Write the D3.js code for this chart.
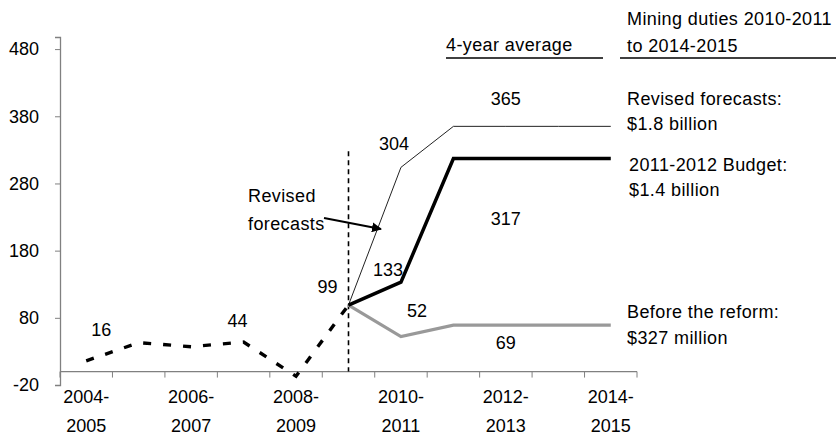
<!DOCTYPE html>
<html><head><meta charset="utf-8">
<script src="https://cdn.jsdelivr.net/npm/d3@7"></script>
<style>body{margin:0;background:#fff}text{font-family:"Liberation Sans",Arial,sans-serif;font-size:18px;fill:#000}</style>
</head><body><svg id="c" width="838" height="439"></svg>
<script>
const categories = ["2004-2005","2005-2006","2006-2007","2007-2008","2008-2009","2009-2010","2010-2011","2011-2012","2012-2013","2013-2014","2014-2015"];
const tickLabels = ["2004-2005","2006-2007","2008-2009","2010-2011","2012-2013","2014-2015"];
const yTicks = [-20, 80, 180, 280, 380, 480];
const historical = [16, 43, 37, 44, -7, 99];
const revisedForecasts = [null,null,null,null,null,99,304,365,365,365,365];
const budget2011 = [null,null,null,null,null,99,133,317,317,317,317];
const beforeReform = [null,null,null,null,null,99,52,69,69,69,69];

const svg = d3.select("#c");
const x = d3.scaleBand().domain(categories).range([60, 637]);
const cx = c => x(c) + x.bandwidth()/2;
const y = d3.scaleLinear().domain([-20, 498]).range([385, 37]);

// axes
const yAxis = svg.append("g").attr("transform","translate(60,0)")
  .call(d3.axisLeft(y).tickValues(yTicks).tickSize(5).tickPadding(16).tickFormat(d => String(d)));
yAxis.select(".domain").attr("stroke","#808080").attr("stroke-width",1.3);
yAxis.selectAll(".tick line").attr("stroke","#808080");
yAxis.selectAll(".tick text").style("font-size","18px").style("font-family","Liberation Sans, Arial").attr("fill","#000");

const xAxis = svg.append("g").attr("transform",`translate(0,${y(0)})`);
xAxis.append("line").attr("x1",60).attr("x2",637).attr("stroke","#808080").attr("stroke-width",1.3);
xAxis.selectAll("line.t").data(categories.concat(["end"])).enter().append("line")
  .attr("x1",(d,i)=>x.range()[0]+i*x.step()).attr("x2",(d,i)=>x.range()[0]+i*x.step())
  .attr("y1",0).attr("y2",6).attr("stroke","#808080");
tickLabels.forEach(t => {
  const parts = t.split("-");
  const tx = xAxis.append("text").attr("x",cx(t)).attr("text-anchor","middle");
  tx.append("tspan").attr("x",cx(t)).attr("y",31).text(parts[0]+"-");
  tx.append("tspan").attr("x",cx(t)).attr("y",60).text(parts[1]);
});

// vertical dashed separator
svg.append("line").attr("x1",cx("2009-2010")).attr("x2",cx("2009-2010"))
  .attr("y1",y(328)).attr("y2",y(0)).attr("stroke","#000").attr("stroke-width",1.6).attr("stroke-dasharray","5,4");

const line = d3.line().defined(d=>d.v!==null).x(d=>cx(d.c)).y(d=>y(d.v));
const toPts = arr => arr.map((v,i)=>({c:categories[i],v}));

svg.append("path").datum(toPts(beforeReform)).attr("d",line).attr("fill","none").attr("stroke","#999").attr("stroke-width",3.2);
svg.append("path").datum(toPts(revisedForecasts)).attr("d",line).attr("fill","none").attr("stroke","#222").attr("stroke-width",1);
svg.append("path").datum(toPts(budget2011)).attr("d",line).attr("fill","none").attr("stroke","#000").attr("stroke-width",3.5);
svg.append("path").datum(toPts(historical)).attr("d",line).attr("fill","none").attr("stroke","#000").attr("stroke-width",3.4).attr("stroke-dasharray","8,12");

// value labels
const labels = [
  {t:"16", c:"2004-2005", v:16, dx:15, dy:-31},
  {t:"44", c:"2007-2008", v:44, dx:-6, dy:-21},
  {t:"99", c:"2009-2010", v:99, dx:-21, dy:-18},
  {t:"133", c:"2010-2011", v:133, dx:-13, dy:-12},
  {t:"304", c:"2010-2011", v:304, dx:-7, dy:-23},
  {t:"365", c:"2012-2013", v:365, dx:0, dy:-27},
  {t:"317", c:"2012-2013", v:317, dx:0, dy:60},
  {t:"52", c:"2010-2011", v:52, dx:16, dy:-26},
  {t:"69", c:"2012-2013", v:69, dx:0, dy:18}
];
svg.selectAll("text.val").data(labels).enter().append("text")
  .attr("x",d=>cx(d.c)+d.dx).attr("y",d=>y(d.v)+d.dy).attr("text-anchor","middle").attr("dominant-baseline","central").text(d=>d.t);

// annotations
const ann = [
  {t:"Mining duties 2010-2011", x:627, y:19},
  {t:"to 2014-2015", x:627, y:46},
  {t:"4-year average", x:446, y:45},
  {t:"Revised forecasts:", x:627, y:99},
  {t:"$1.8 billion", x:627, y:124},
  {t:"2011-2012 Budget:", x:629, y:165},
  {t:"$1.4 billion", x:629, y:190},
  {t:"Before the reform:", x:627, y:312},
  {t:"$327 million", x:627, y:338},
  {t:"Revised", x:248, y:196},
  {t:"forecasts", x:248, y:224}
];
svg.selectAll("text.ann").data(ann).enter().append("text")
  .attr("x",d=>d.x).attr("y",d=>d.y).attr("dominant-baseline","central").style("letter-spacing","0.4px").text(d=>d.t);
svg.append("line").attr("x1",446).attr("x2",603).attr("y1",58).attr("y2",58).attr("stroke","#000").attr("stroke-width",1.3);
svg.append("line").attr("x1",620).attr("x2",836).attr("y1",58).attr("y2",58).attr("stroke","#000").attr("stroke-width",1.3);

// arrow
svg.append("defs").append("marker").attr("id","ah").attr("viewBox","0 0 10 10").attr("refX",9).attr("refY",5)
  .attr("markerWidth",5).attr("markerHeight",5).attr("orient","auto")
  .append("path").attr("d","M0,0L10,5L0,10z").attr("fill","#000");
svg.append("line").attr("x1",324).attr("y1",218).attr("x2",381).attr("y2",229).attr("stroke","#000").attr("stroke-width",2).attr("marker-end","url(#ah)");
</script></body></html>
